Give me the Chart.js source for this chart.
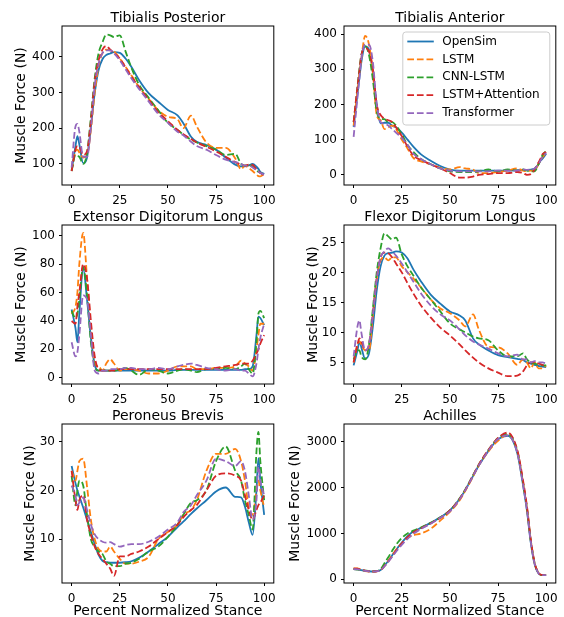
<!DOCTYPE html>
<html>
<head>
<meta charset="utf-8">
<script src="https://cdn.jsdelivr.net/npm/chart.js@4.4.0/dist/chart.umd.min.js"></script>
<style>
  html, body { margin: 0; padding: 0; background: #fff; overflow: hidden; }
  #fig { position: relative; width: 564px; height: 617px; }
  .cell { position: absolute; width: 282px; height: 221px; }
</style>
</head>
<body>
<div id="fig"></div>
<script>
// percent of stance where values were read
const stance = [0, 2, 3, 4, 6, 8, 10, 12, 14, 16, 18, 20, 22, 25, 28, 31, 35, 40, 45, 50,
                55, 58, 62, 65, 70, 75, 80, 85, 88, 90, 92, 94, 96, 97, 98, 100];
const xTicks = [0, 25, 50, 75, 100];
const seriesNames = ['OpenSim', 'LSTM', 'CNN-LSTM', 'LSTM+Attention', 'Transformer'];
const seriesColors = ['#1f77b4', '#ff7f0e', '#2ca02c', '#d62728', '#9467bd'];

// each muscle: [OpenSim, LSTM, CNN-LSTM, LSTM+Attention, Transformer]
const tibPost = [
  [81,150,178,155,102,118,204,298,363,393,405,409,413,411,395,372,335,298,274,251,236,214,176,162,153,140,118,98,93,93,96,100,92,86,78,72],
  [83,135,140,132,118,125,195,300,375,410,420,418,415,395,372,348,315,282,250,232,225,200,235,205,160,145,145,115,85,95,88,80,70,66,65,72],
  [80,125,122,120,100,130,230,340,410,440,462,460,455,460,415,370,322,285,250,215,195,182,168,160,150,140,125,128,100,95,97,93,82,78,75,70],
  [80,140,150,148,125,135,220,330,390,420,430,420,410,395,370,345,315,280,245,220,195,183,170,160,148,135,120,105,98,95,98,97,85,80,75,68],
  [90,205,212,190,120,120,200,320,380,410,418,418,410,390,365,340,310,275,240,215,190,180,162,150,140,125,112,105,100,95,95,90,82,78,75,70]
];
const tibPostTicks = [100, 200, 300, 400];

const tibAnt = [
  [136,230,275,320,365,355,290,200,146,148,148,140,135,120,100,80,58,40,25,15,12,12,12,12,12,12,12,13,14,14,15,18,30,40,45,60],
  [140,240,290,330,395,370,290,170,155,130,135,140,130,100,75,48,38,30,20,15,22,18,15,5,5,8,12,18,12,10,12,12,30,40,50,62],
  [150,250,300,340,365,340,270,180,160,158,150,150,140,115,85,65,45,30,18,10,8,8,8,10,15,10,15,12,15,12,10,10,30,42,55,68],
  [150,250,295,340,360,350,300,200,170,160,155,150,135,110,80,55,42,30,18,5,-8,-8,-5,0,2,5,5,8,5,0,2,15,35,45,58,65],
  [108,220,275,330,370,370,320,200,150,145,140,130,120,105,85,60,45,30,18,12,10,10,10,10,10,12,12,12,15,14,15,18,30,40,50,62]
];
const tibAntTicks = [0, 100, 200, 300, 400];

const extDig = [
  [48,35,25,45,77,55,28,9,5,5,5,5,5,5,5,5,5,5,5,5,5.5,5.5,5.5,5.5,5.5,5.5,5.5,5.5,5.5,6,6,8,30,43,42,37],
  [45,50,60,80,102,70,35,10,8,5,10,13,10,5,6,6,5,3,3,5,8,8,8,6,6,7,7,8,12,10,8,5,20,30,38,38],
  [47,42,45,55,78,58,25,8,5,6,5,5,5,6,7,5,2,6,5,3,5,6,5,4,6,6,7,6,8,10,6,3,25,45,47,42],
  [40,38,50,60,80,70,40,15,6,5,5,5,5,6,6,6,6,6,6,6,6,6,6,6,6,7,8,9,10,10,10,12,17,20,24,30],
  [25,15,18,30,58,55,30,5,3,5,5,6,6,6,7,7,6,6,7,6,8,9,10,9,7,6,5,6,5,5,3,1,10,20,28,38]
];
const extDigTicks = [0, 20, 40, 60, 80, 100];

const flexDig = [
  [4.5,7,8.5,7.5,5.6,6.5,11,17,21,22.8,23.2,23.3,23.5,23.3,22.3,20.5,18.5,16.3,14.8,13.5,12.8,12,9,8,7,6.2,5.9,5.6,5.4,5,4.8,4.6,4.4,4.35,4.3,4.2],
  [5,8,8.5,8,7,7,13,19,22,22.5,22,22.5,22.5,21,20,19,17.5,15.5,14,13.2,12,11,13,10.5,7.6,7.5,6.5,4.6,5.5,5,4,5,4,4,4,4.5],
  [5.5,7,7,6,5.5,8,14,20,24,26.5,26,25.5,25.8,23,21,19.5,17.5,15.5,13.5,11.5,10.5,10,9.3,9,8.7,7,6,6,6.5,5.5,5,4.8,4.6,4.5,4.5,4.5],
  [5,8,9,8.5,7,8,13,19,22.5,23.3,23.2,22.5,21.5,20,18.2,16.5,14.5,12.5,10.8,9.5,8,7,5.8,5,4,3.3,2.7,2.8,3.5,4.5,5,5,4.8,4.7,4.6,4.5],
  [6,11,12,10,7,8,13,19,22.5,23.5,24,23.5,22.8,21.5,20,18.5,16.5,14.5,13,12,10.5,9.5,8.5,8,7.3,6.5,6,6.3,5.5,5.5,5,5.2,5,5,5,4.8]
];
const flexDigTicks = [5, 10, 15, 20, 25];

const perBrev = [
  [25,21.5,20,18.8,16.5,14,11.5,9,6.8,5.6,5.3,5.2,5.2,5.2,5.3,5.5,6.2,7.5,9,10.5,12.5,13.6,15.2,16.3,18,19.8,20.6,18.7,18.6,16.7,13.5,10.9,20,26.6,22,15],
  [24,22,24,26,26.5,20.8,14,10,8,7.5,7.5,8.5,7.5,6,5,5,5.4,6.4,10,11.5,13,15,16,18,24,27.5,27.5,28.5,26,22,16.5,15,20,22,20,16.5],
  [23,17,20,22,21,15,10,8.5,7.5,7,5.5,5,4.5,4.5,5,5.2,6,7.5,8.5,10.5,13,15,17.5,18,20,26,29,24,22,18,15,12,28,32,26,18],
  [24,18,16,18,19,14,11,8.5,7,6,5,4,2.5,6.5,6.5,7,7.5,8.5,10,11.5,13,14.5,16,17,20,23,23.5,23,22,19,16,14,16,17,17.5,19],
  [21,19,17,17.5,18.5,16,13,11,10,9.5,9.3,9.4,9,8.5,8.8,9,9,9.5,10.5,12,13.5,15.5,17,19,22,26.5,26,25,26,24,19,14,18,25,22,19]
];
const perBrevTicks = [10, 20, 30];

const achilles = [
  [230,220,210,200,185,175,170,180,200,300,400,520,640,800,940,1040,1120,1230,1350,1500,1750,1950,2250,2480,2800,3050,3130,2750,2050,1500,800,330,130,100,90,90],
  [240,240,230,210,180,170,170,175,200,290,400,520,640,780,900,960,1000,1100,1280,1470,1720,1930,2240,2480,2790,3020,3150,2780,2100,1550,850,350,140,105,95,95],
  [220,210,205,200,190,180,175,180,220,350,480,620,750,900,1000,1060,1130,1230,1350,1500,1760,1960,2270,2500,2820,3080,3170,2800,2100,1560,850,350,130,100,90,90],
  [230,230,220,210,190,175,170,175,195,290,390,500,620,780,920,1020,1110,1220,1340,1500,1750,1950,2260,2500,2820,3080,3200,2820,2150,1600,870,360,140,105,95,90],
  [220,215,210,200,185,175,170,175,195,280,380,490,600,750,880,990,1100,1210,1340,1480,1740,1940,2250,2480,2800,3060,3140,2760,2060,1520,820,340,130,100,90,90]
];
const achillesTicks = [0, 1000, 2000, 3000];

Chart.defaults.font.family = '"DejaVu Sans", sans-serif';
Chart.defaults.color = '#000';

// plot boxes in page pixels
const colLeft = [62, 344];
const rowTop = [26, 225, 424];

const panels = [
  { title: 'Tibialis Posterior', data: tibPost, ticks: tibPostTicks, min: 41, max: 486, row: 0, col: 0, yPad: 13 },
  { title: 'Tibialis Anterior', data: tibAnt, ticks: tibAntTicks, min: -29, max: 423, row: 0, col: 1, yPad: null, legend: true },
  { title: 'Extensor Digitorum Longus', data: extDig, ticks: extDigTicks, min: -4.4, max: 107.5, row: 1, col: 0, yPad: 13 },
  { title: 'Flexor Digitorum Longus', data: flexDig, ticks: flexDigTicks, min: 1.4, max: 27.9, row: 1, col: 1, yPad: 23 },
  { title: 'Peroneus Brevis', data: perBrev, ticks: perBrevTicks, min: 1.05, max: 33.6, row: 2, col: 0, yPad: 22 },
  { title: 'Achilles', data: achilles, ticks: achillesTicks, min: -81, max: 3386, row: 2, col: 1, yPad: 5 }
];

const framePlugin = {
  id: 'frame',
  afterDatasetsDraw(chart) {
    const { ctx, chartArea: a } = chart;
    ctx.save();
    ctx.strokeStyle = '#000';
    ctx.lineWidth = 1;
    ctx.strokeRect(a.left, a.top, a.width, a.height);
    ctx.restore();
  }
};

const boxLegend = {
  id: 'boxLegend',
  afterDraw(chart) {
    const { ctx, chartArea: a } = chart;
    const w = 147, h = 93;
    const x0 = a.right - 6 - w, y0 = a.top + 6;
    ctx.save();
    ctx.beginPath();
    ctx.roundRect(x0, y0, w, h, 3);
    ctx.fillStyle = 'rgba(255,255,255,0.8)';
    ctx.fill();
    ctx.strokeStyle = '#cccccc';
    ctx.lineWidth = 1;
    ctx.stroke();
    ctx.font = '12px "DejaVu Sans"';
    ctx.textBaseline = 'middle';
    chart.data.datasets.forEach((ds, i) => {
      const y = y0 + 9.5 + i * 17.9;
      ctx.setLineDash(ds.borderDash);
      ctx.strokeStyle = ds.borderColor;
      ctx.lineWidth = 1.8;
      ctx.beginPath();
      ctx.moveTo(x0 + 4.5, y);
      ctx.lineTo(x0 + 31, y);
      ctx.stroke();
      ctx.setLineDash([]);
      ctx.fillStyle = '#000';
      ctx.fillText(ds.label, x0 + 39.5, y);
    });
    ctx.restore();
  }
};

const fig = document.getElementById('fig');

panels.forEach(p => {
  const cell = document.createElement('div');
  cell.className = 'cell';
  cell.style.left = (colLeft[p.col] - 62) + 'px';
  cell.style.top = (rowTop[p.row] - 26) + 'px';
  const cv = document.createElement('canvas');
  cell.appendChild(cv);
  fig.appendChild(cell);

  new Chart(cv, {
    type: 'line',
    data: {
      datasets: p.data.map((vals, i) => ({
        label: seriesNames[i],
        data: vals.map((v, k) => ({ x: stance[k], y: v })),
        borderColor: seriesColors[i],
        borderWidth: 1.8,
        borderDash: i === 0 ? [] : [6.7, 2.9],
        borderJoinStyle: 'round',
        pointRadius: 0,
        fill: false,
        cubicInterpolationMode: 'monotone',
        order: 4 - i
      }))
    },
    options: {
      responsive: true,
      maintainAspectRatio: false,
      animation: false,
      events: [],
      layout: { padding: { left: 0, right: 4, top: 0, bottom: 0 } },
      plugins: {
        legend: { display: false },
        tooltip: { enabled: false },
        title: {
          display: true,
          text: p.title,
          fullSize: false,
          color: '#000',
          font: { size: 14, weight: 'normal', lineHeight: 1 },
          padding: { top: 11, bottom: 1 }
        }
      },
      scales: {
        x: {
          type: 'linear',
          min: -5,
          max: 105,
          afterFit: s => { s.height = 36; },
          afterBuildTicks: s => { s.ticks = xTicks.map(v => ({ value: v })); },
          grid: { drawOnChartArea: false, drawTicks: true, tickLength: 3, tickColor: '#000' },
          border: { display: false },
          ticks: { font: { size: 12 }, padding: 6, maxRotation: 0, autoSkip: false, callback: v => String(v) },
          title: {
            display: p.row === 2,
            text: 'Percent Normalized Stance',
            font: { size: 14 },
            padding: { top: 0, bottom: -1 }
          }
        },
        y: {
          min: p.min,
          max: p.max,
          afterFit: s => { s.width = 62; },
          afterBuildTicks: s => { s.ticks = p.ticks.map(v => ({ value: v })); },
          grid: { drawOnChartArea: false, drawTicks: true, tickLength: 3, tickColor: '#000' },
          border: { display: false },
          ticks: { font: { size: 12 }, padding: 4, autoSkip: false, callback: v => String(v) },
          title: {
            display: p.yPad !== null,
            text: 'Muscle Force (N)',
            font: { size: 14 },
            padding: { top: p.yPad || 0, bottom: 0 }
          }
        }
      }
    },
    plugins: p.legend ? [framePlugin, boxLegend] : [framePlugin]
  });
});
</script>
</body>
</html>
